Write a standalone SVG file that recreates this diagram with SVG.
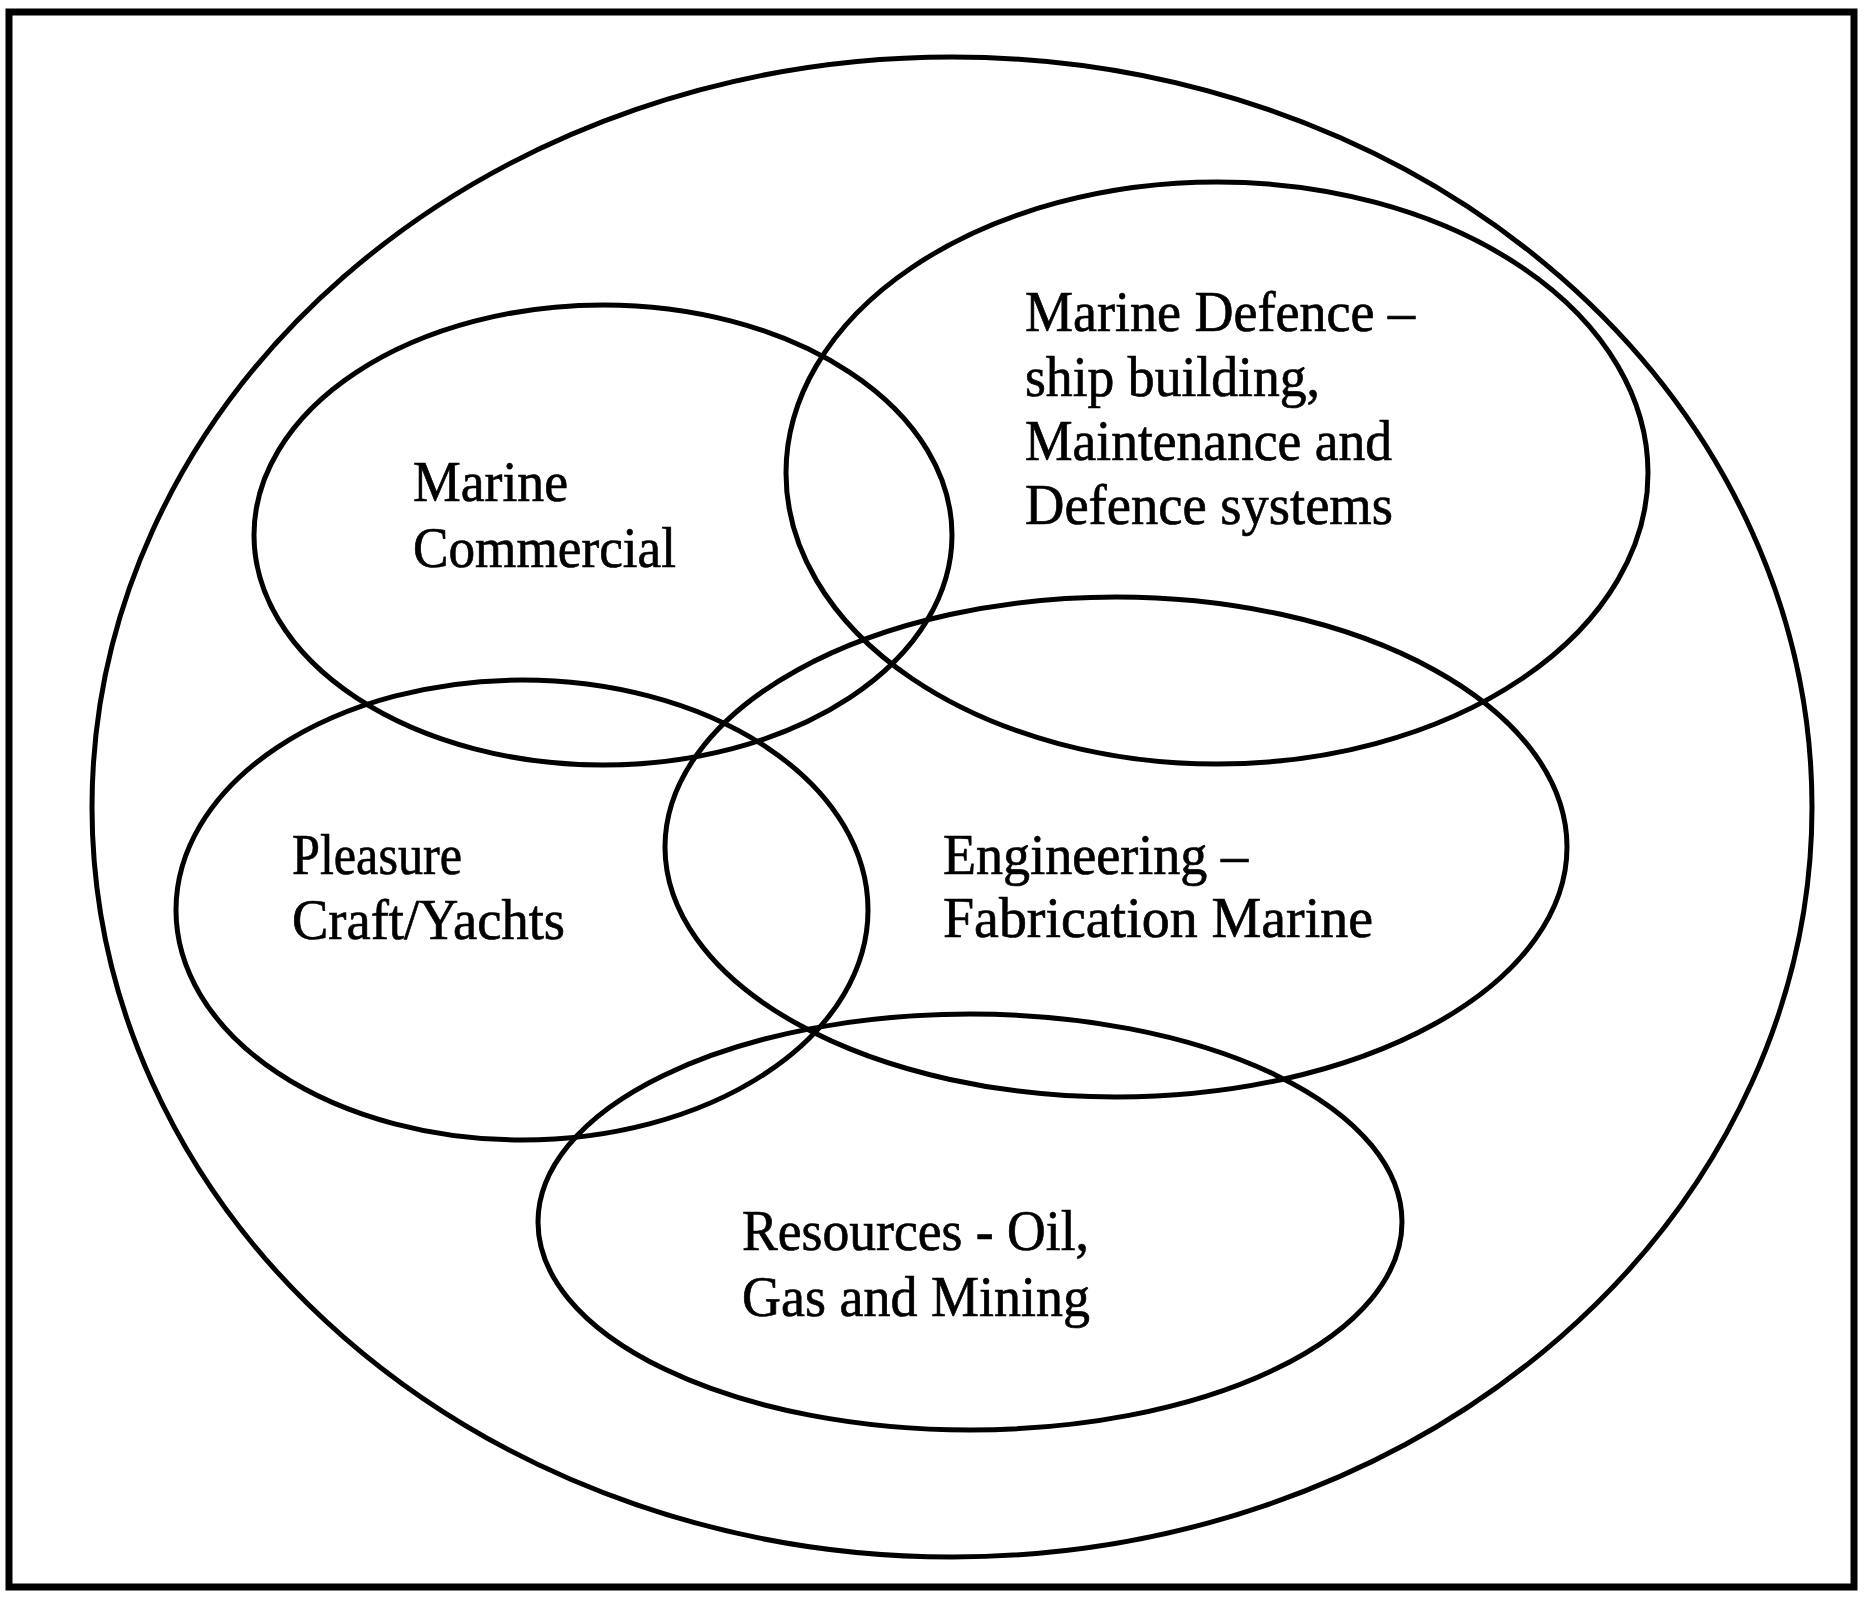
<svg xmlns="http://www.w3.org/2000/svg" width="1873" height="1599" viewBox="0 0 1873 1599">
  <style>
    .ring { fill: none; stroke: #000; stroke-width: 5; }
    .frame { fill: none; stroke: #000; stroke-width: 7; }
    .label { font-family: "Liberation Serif", "Times New Roman", serif; font-size: 58px; fill: #000; stroke: #000; stroke-width: 0.7; }
  </style>
  <rect width="1873" height="1599" fill="#fff"/>
  <rect class="frame" x="9" y="12" width="1845" height="1575"/>

  <!-- outer sector boundary -->
  <g id="marine-industry">
    <ellipse class="ring" cx="952" cy="807" rx="860" ry="750"/>
  </g>

  <g id="marine-commercial">
    <ellipse class="ring" cx="603" cy="535" rx="349" ry="230"/>
    <text class="label" x="413" y="501" textLength="155" lengthAdjust="spacingAndGlyphs">Marine</text>
    <text class="label" x="413" y="567" textLength="263" lengthAdjust="spacingAndGlyphs">Commercial</text>
  </g>

  <g id="marine-defence">
    <ellipse class="ring" cx="1217" cy="473" rx="431" ry="291"/>
    <text class="label" x="1025" y="331" textLength="390" lengthAdjust="spacingAndGlyphs">Marine Defence –</text>
    <text class="label" x="1025" y="396" textLength="295" lengthAdjust="spacingAndGlyphs">ship building,</text>
    <text class="label" x="1025" y="460" textLength="367" lengthAdjust="spacingAndGlyphs">Maintenance and</text>
    <text class="label" x="1025" y="524" textLength="368" lengthAdjust="spacingAndGlyphs">Defence systems</text>
  </g>

  <g id="pleasure-craft">
    <ellipse class="ring" cx="522" cy="910" rx="346" ry="230"/>
    <text class="label" x="292" y="874" textLength="170" lengthAdjust="spacingAndGlyphs">Pleasure</text>
    <text class="label" x="292" y="939" textLength="273" lengthAdjust="spacingAndGlyphs">Craft/Yachts</text>
  </g>

  <g id="engineering">
    <ellipse class="ring" cx="1116" cy="847" rx="451" ry="250"/>
    <text class="label" x="943" y="874" textLength="305" lengthAdjust="spacingAndGlyphs">Engineering –</text>
    <text class="label" x="943" y="937" textLength="430" lengthAdjust="spacingAndGlyphs">Fabrication Marine</text>
  </g>

  <g id="resources">
    <ellipse class="ring" cx="970" cy="1222" rx="432" ry="208"/>
    <text class="label" x="742" y="1250" textLength="347" lengthAdjust="spacingAndGlyphs">Resources - Oil,</text>
    <text class="label" x="742" y="1316" textLength="348" lengthAdjust="spacingAndGlyphs">Gas and Mining</text>
  </g>
</svg>
